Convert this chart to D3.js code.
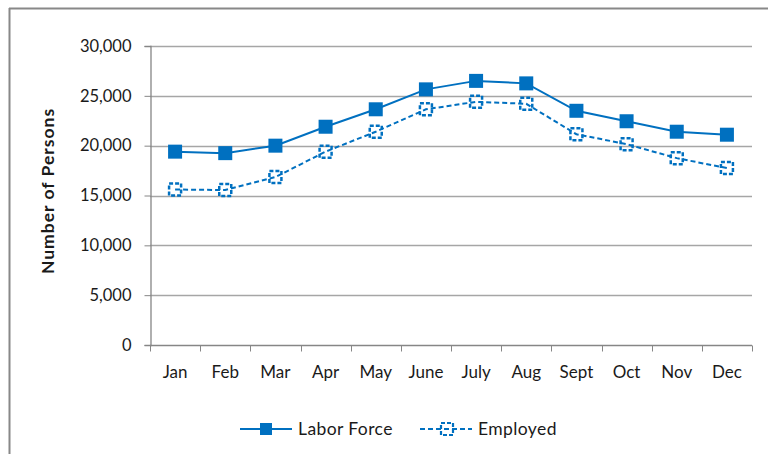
<!DOCTYPE html>
<html><head><meta charset="utf-8">
<script src="https://cdn.jsdelivr.net/npm/d3@7"></script>
<style>body{margin:0;background:#fff}svg{display:block}text{font-family:Lato,"Open Sans",sans-serif;fill:#1a1a1a}</style>
</head><body>
<svg id="c" width="768" height="454"></svg>
<script>
const months = ["Jan","Feb","Mar","Apr","May","June","July","Aug","Sept","Oct","Nov","Dec"];
const laborForce = [19400,19250,20000,21900,23650,25650,26500,26250,23500,22450,21400,21100];
const employed = [15600,15550,16850,19400,21400,23650,24400,24200,21150,20150,18750,17750];
const yTicks = [0,5000,10000,15000,20000,25000,30000];
const seriesNames = ["Labor Force","Employed"];

const blue = "#0070C0";
const svg = d3.select("#c");
const L = 150, R = 752, T = 46, B = 345;

// outer frame (top and left only visible)
svg.append("line").attr("x1",9).attr("x2",768).attr("y1",8.5).attr("y2",8.5).attr("stroke","#888").attr("stroke-width",2);
svg.append("line").attr("x1",9.5).attr("x2",9.5).attr("y1",8).attr("y2",454).attr("stroke","#888").attr("stroke-width",2);

const x = d3.scaleBand().domain(months).range([L,R]);
const y = d3.scaleLinear().domain([0,30000]).range([B,T]);

// gridlines
svg.append("g").selectAll("line").data(yTicks.filter(d=>d>0)).join("line")
  .attr("x1",L).attr("x2",R).attr("y1",d=>Math.round(y(d))+0.5).attr("y2",d=>Math.round(y(d))+0.5)
  .attr("stroke","#a6a6a6").attr("stroke-width",1.3);

// y axis
const yAxis = svg.append("g").attr("transform",`translate(${L+0.5},0)`)
  .call(d3.axisLeft(y).tickValues(yTicks).tickFormat(d3.format(",")).tickSize(6).tickPadding(13));
yAxis.select(".domain").attr("stroke","#868686").attr("stroke-width",1.3);
yAxis.selectAll(".tick line").attr("stroke","#868686");
yAxis.selectAll("text").style("font-size","16.5px").attr("fill","#1a1a1a");

// x axis
const xAxis = svg.append("g").attr("transform",`translate(0,${B+0.5})`)
  .call(d3.axisBottom(x).tickSize(0).tickPadding(20));
xAxis.select(".domain").attr("d",`M${L},0H${R}`).attr("stroke","#868686").attr("stroke-width",1.3);
xAxis.selectAll("text").style("font-size","17px").attr("fill","#1a1a1a");
// boundary ticks
xAxis.append("g").selectAll("line").data(d3.range(months.length+1)).join("line")
  .attr("x1",i=>Math.round(L+i*x.step())+0.5).attr("x2",i=>Math.round(L+i*x.step())+0.5)
  .attr("y1",0).attr("y2",6).attr("stroke","#868686");

// axis title
svg.append("text").attr("transform","translate(54,191) rotate(-90)").attr("text-anchor","middle")
  .style("font-size","17.5px").style("font-weight","bold").style("letter-spacing","1px").text("Number of Persons");

const cx = m => x(m)+x.bandwidth()/2;
const line = d3.line().x((d,i)=>cx(months[i])).y(d=>y(d));

// Labor force
svg.append("path").datum(laborForce).attr("d",line).attr("fill","none").attr("stroke",blue).attr("stroke-width",2);
svg.append("g").selectAll("rect").data(laborForce).join("rect")
  .attr("x",(d,i)=>cx(months[i])-7).attr("y",d=>y(d)-7).attr("width",14).attr("height",14).attr("fill",blue);

// Employed
svg.append("path").datum(employed).attr("d",line).attr("fill","none").attr("stroke",blue).attr("stroke-width",2).attr("stroke-dasharray","5,3");
svg.append("g").selectAll("rect").data(employed).join("rect")
  .attr("x",(d,i)=>cx(months[i])-6).attr("y",d=>y(d)-6).attr("width",12).attr("height",12)
  .attr("fill","none").attr("stroke",blue).attr("stroke-width",2.5).attr("stroke-dasharray","4,2");

// legend
const lg = svg.append("g");
lg.append("line").attr("x1",240).attr("x2",292).attr("y1",429).attr("y2",429).attr("stroke",blue).attr("stroke-width",2);
lg.append("rect").attr("x",260).attr("y",423).attr("width",12).attr("height",12).attr("fill",blue);
lg.append("text").attr("x",298).attr("y",435).style("font-size","17.5px").style("letter-spacing","0.4px").text(seriesNames[0]);
lg.append("line").attr("x1",420).attr("x2",472).attr("y1",429).attr("y2",429).attr("stroke",blue).attr("stroke-width",2).attr("stroke-dasharray","5,3");
lg.append("rect").attr("x",441).attr("y",423).attr("width",12).attr("height",12).attr("fill","none").attr("stroke",blue).attr("stroke-width",2.2).attr("stroke-dasharray","4,2");
lg.append("text").attr("x",478).attr("y",435).style("font-size","17.5px").style("letter-spacing","0.4px").text(seriesNames[1]);
</script>
</body></html>
